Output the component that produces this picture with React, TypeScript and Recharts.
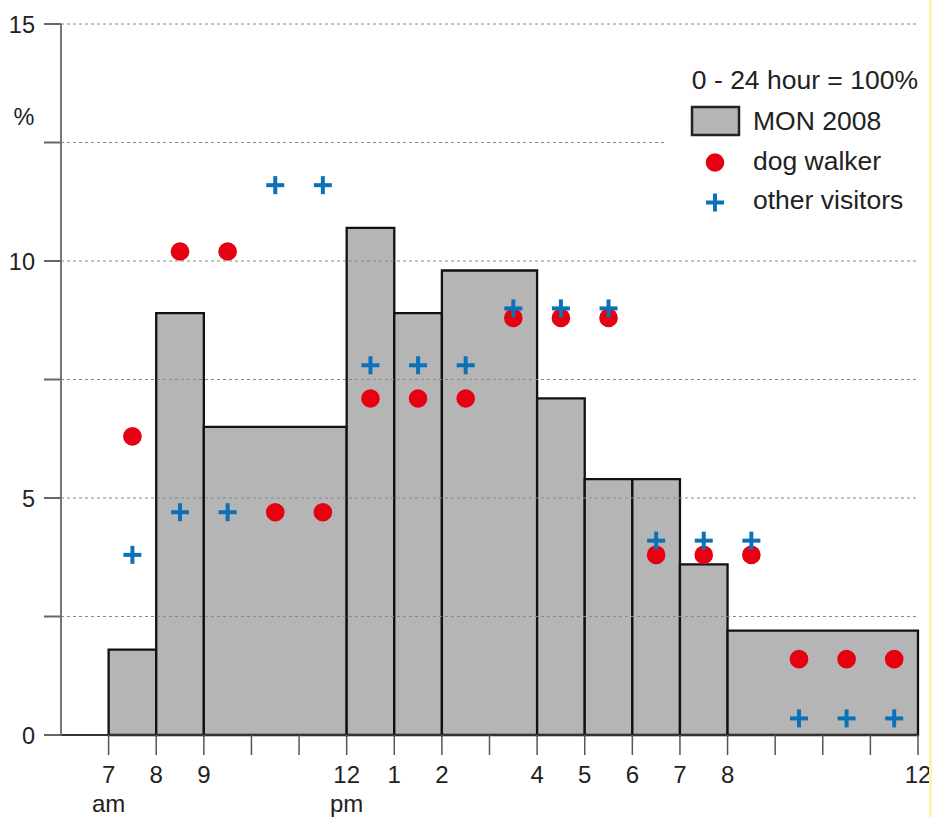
import React from "react"
import {
  ComposedChart,
  XAxis,
  YAxis,
  Scatter,
  ReferenceArea,
  ReferenceLine,
  Legend,
  Label,
} from "recharts"

// histogram bins (hour of day, 24h clock)
const binStart = [7, 8, 9, 12, 13, 14, 16, 17, 18, 19, 20]
const binEnd = [8, 9, 12, 13, 14, 16, 17, 18, 19, 20, 24]
const mon2008 = [1.8, 8.9, 6.5, 10.7, 8.9, 9.8, 7.1, 5.4, 5.4, 3.6, 2.2]

// point series, one value per hour slot (centre of the hour)
const slotHours = [7.5, 8.5, 9.5, 10.5, 11.5, 12.5, 13.5, 14.5, 15.5, 16.5, 17.5, 18.5, 19.5, 20.5, 21.5, 22.5, 23.5]
const dogWalker = [6.3, 10.2, 10.2, 4.7, 4.7, 7.1, 7.1, 7.1, 8.8, 8.8, 8.8, 3.8, 3.8, 3.8, 1.6, 1.6, 1.6]
const otherVisitors = [3.8, 4.7, 4.7, 11.6, 11.6, 7.8, 7.8, 7.8, 9.0, 9.0, 9.0, 4.1, 4.1, 4.1, 0.35, 0.35, 0.35]

// axis ticks
const hourTicks = [7, 8, 9, 10, 11, 12, 13, 14, 15, 16, 17, 18, 19, 20, 21, 22, 23, 24]
const hourLabels = ["7", "8", "9", "", "", "12", "1", "2", "", "4", "5", "6", "7", "8", "", "", "", "12"]
const hourSubLabels: Record<number, string> = { 7: "am", 12: "pm" }
const yTicks = [0, 2.5, 5, 7.5, 10, 12.5, 15]
const gridLines = [2.5, 5, 7.5, 10, 12.5, 15]

const legendTitle = "0 - 24 hour = 100%"
const barName = "MON 2008"
const dogName = "dog walker"
const otherName = "other visitors"

const FONT = '"Liberation Sans", Arial, sans-serif'
const BAR_FILL = "#b5b5b5"
const RED = "#e60012"
const BLUE = "#0b72b9"

const dogData = slotHours.map((h, i) => ({ hour: h, value: dogWalker[i] }))
const otherData = slotHours.map((h, i) => ({ hour: h, value: otherVisitors[i] }))

function Dot(props: any) {
  const { cx, cy } = props
  return <circle cx={cx} cy={cy} r={9.3} fill={RED} />
}

function Plus(props: any) {
  const { cx, cy } = props
  return (
    <g stroke={BLUE} strokeWidth={4}>
      <line x1={cx - 9} y1={cy} x2={cx + 9} y2={cy} />
      <line x1={cx} y1={cy - 9} x2={cx} y2={cy + 9} />
    </g>
  )
}

function HourTick(props: any) {
  const { x, payload } = props
  const idx = hourTicks.indexOf(payload.value)
  const label = idx >= 0 ? hourLabels[idx] : ""
  const sub = hourSubLabels[payload.value]
  return (
    <g>
      <text x={x} y={783} textAnchor="middle" fontSize={24} fontFamily={FONT} fill="#222">
        {label}
      </text>
      {sub && (
        <text x={x} y={812} textAnchor="middle" fontSize={24} fontFamily={FONT} fill="#222">
          {sub}
        </text>
      )}
    </g>
  )
}

function LegendBox() {
  return (
    <svg width={262} height={170} style={{ display: "block", background: "#fff" }}>
      <text x={254} y={34} textAnchor="end" fontSize={26.5} fontFamily={FONT} fill="#222">
        {legendTitle}
      </text>
      <rect x={28} y={52} width={47} height={28} fill={BAR_FILL} stroke="#222" strokeWidth={2.5} />
      <text x={89} y={75} fontSize={26.5} fontFamily={FONT} fill="#222">
        {barName}
      </text>
      <circle cx={51} cy={107.5} r={9.3} fill={RED} />
      <text x={89} y={115} fontSize={26.5} fontFamily={FONT} fill="#222">
        {dogName}
      </text>
      <g stroke={BLUE} strokeWidth={4}>
        <line x1={42} y1={147.5} x2={60} y2={147.5} />
        <line x1={51} y1={138.5} x2={51} y2={156.5} />
      </g>
      <text x={89} y={154} fontSize={26.5} fontFamily={FONT} fill="#222">
        {otherName}
      </text>
    </svg>
  )
}

export default function App() {
  return (
    <div style={{ position: "absolute", left: 0, top: 0, width: 934, height: 817, background: "#fff" }}>
      <ComposedChart width={934} height={817} margin={{ top: 24, right: 16, bottom: 22, left: 0 }}>
        <XAxis
          type="number"
          dataKey="hour"
          domain={[6, 24]}
          ticks={hourTicks}
          interval={0}
          tickSize={20}
          height={60}
          axisLine={{ stroke: "#333", strokeWidth: 2 }}
          tickLine={{ stroke: "#555", strokeWidth: 1.5 }}
          tick={<HourTick />}
          allowDataOverflow
        />
        <YAxis
          type="number"
          dataKey="value"
          domain={[0, 15]}
          ticks={yTicks}
          interval={0}
          width={61}
          tickSize={17}
          tickMargin={9}
          axisLine={{ stroke: "#777", strokeWidth: 2 }}
          tickLine={{ stroke: "#666", strokeWidth: 2 }}
          tick={{ fontSize: 23.5, fontFamily: FONT, fill: "#222", dy: 1 }}
          tickFormatter={(v: number) => (v % 5 === 0 ? String(v) : "")}
        >
          <Label
            content={() => (
              <text x={24} y={125} textAnchor="middle" fontSize={23.5} fontFamily={FONT} fill="#222">
                %
              </text>
            )}
          />
        </YAxis>
        {binStart.map((s, i) => (
          <ReferenceArea
            key={`bin-${i}`}
            x1={s}
            x2={binEnd[i]}
            y1={0}
            y2={mon2008[i]}
            fill={BAR_FILL}
            fillOpacity={1}
            stroke="#111"
            strokeWidth={2.3}
            ifOverflow="visible"
          />
        ))}
        {gridLines.map((g) => (
          <ReferenceLine key={`grid-${g}`} y={g} stroke="#888" strokeWidth={1} strokeDasharray="3 3" />
        ))}
        <Scatter name={dogName} data={dogData} shape={<Dot />} isAnimationActive={false} />
        <Scatter name={otherName} data={otherData} shape={<Plus />} isAnimationActive={false} />
        <Legend
          layout="horizontal"
          align="center"
          verticalAlign="middle"
          content={() => <LegendBox />}
          wrapperStyle={{ left: 664, top: 55, width: 262, height: 170 }}
        />
      </ComposedChart>
      <div style={{ position: "absolute", left: 929, top: 0, width: 3, height: 817, background: "#fbf3b0" }} />
    </div>
  )
}
